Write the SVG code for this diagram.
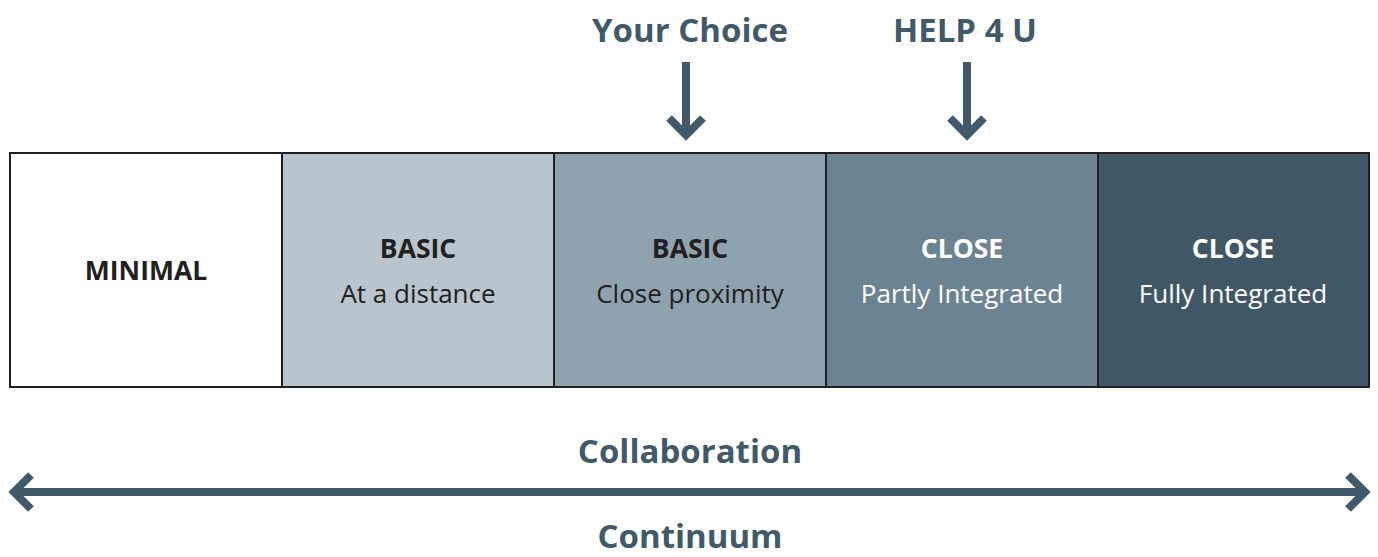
<svg xmlns="http://www.w3.org/2000/svg" width="1378" height="557" viewBox="0 0 1378 557">
<style>
.box{stroke:#231f20;stroke-width:2}
.t{font-family:"Open Sans","Liberation Sans",sans-serif;text-anchor:middle}
.b{font-weight:bold;font-size:26.5px}
.r{font-size:26px}
.dk{fill:#231f20}
.wh{fill:#ffffff}
.hd{fill:#415a6a;font-weight:bold;font-size:33px}
.ln{stroke:#415a6a;stroke-width:8;fill:none}
</style>
<rect x="0" y="0" width="1378" height="557" fill="#ffffff"/>
<g id="n1"><rect class="box" x="10" y="153" width="272" height="234" fill="#ffffff"/><text class="t b dk" x="146" y="280">MINIMAL</text></g>
<g id="n2"><rect class="box" x="282" y="153" width="272" height="234" fill="#b8c5ce"/><text class="t b dk" x="418" y="258">BASIC</text><text class="t r dk" x="418" y="303">At a distance</text></g>
<g id="n3"><rect class="box" x="554" y="153" width="272" height="234" fill="#8fa2af"/><text class="t b dk" x="690" y="258">BASIC</text><text class="t r dk" x="690" y="303">Close proximity</text></g>
<g id="n4"><rect class="box" x="826" y="153" width="272" height="234" fill="#6c8391"/><text class="t b wh" x="962" y="258">CLOSE</text><text class="t r wh" x="962" y="303">Partly Integrated</text></g>
<g id="n5"><rect class="box" x="1098" y="153" width="271" height="234" fill="#405766"/><text class="t b wh" x="1233" y="258">CLOSE</text><text class="t r wh" x="1233" y="303">Fully Integrated</text></g>
<g id="labels">
<text class="t hd" x="690" y="42">Your Choice</text>
<text class="t hd" x="965" y="42">HELP 4 U</text>
<text class="t hd" x="690" y="463">Collaboration</text>
<text class="t hd" x="690" y="548">Continuum</text>
</g>
<g id="connectors">
<path class="ln" d="M686 62V134"/><path class="ln" d="M669 118L686 135L703 118"/>
<path class="ln" d="M967 62V134"/><path class="ln" d="M950 118L967 135L984 118"/>
<path class="ln" d="M14 492H1365"/>
<path class="ln" d="M31 475L14 492L31 509"/>
<path class="ln" d="M1348 475L1365 492L1348 509"/>
</g>
</svg>
